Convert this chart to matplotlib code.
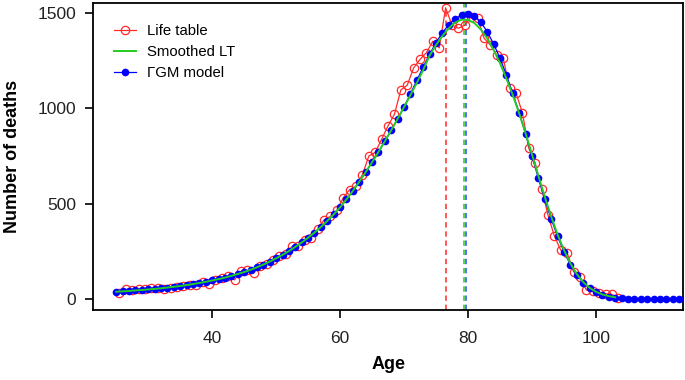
import numpy as np
import matplotlib
matplotlib.use("Agg")
import matplotlib.pyplot as plt

plt.rcParams['font.family'] = ['Liberation Sans', 'DejaVu Sans']

# GM model, ages 25..113
model_age = np.arange(25, 114)
model_deaths = [38, 40, 42, 45, 47, 50, 53, 56, 60, 64,
                68, 73, 78, 84, 90, 97, 104, 112, 121, 131,
                141, 153, 166, 180, 196, 213, 231, 251, 273, 296,
                321, 348, 377, 409, 443, 480, 522, 566, 614, 664,
                716, 770, 826, 884, 944, 1005, 1075, 1145, 1215, 1282,
                1343, 1395, 1437, 1468, 1487, 1493, 1480, 1450, 1400, 1336,
                1262, 1172, 1077, 975, 865, 748, 632, 522, 420, 328,
                248, 180, 126, 86, 56, 35, 21, 12, 7, 4,
                2, 1, 0.5, 0.2, 0.1, 0, 0, 0, 0]

# smoothed life table, ages 25..103
smooth_age = np.arange(25, 104)
smooth_deaths = [38, 40, 42, 45, 47, 50, 53, 56, 60, 64,
                 68, 73, 78, 84, 90, 97, 104, 112, 121, 131,
                 141, 153, 166, 180, 196, 213, 231, 251, 273, 296,
                 321, 348, 377, 409, 443, 480, 522, 566, 614, 664,
                 716, 770, 826, 884, 944, 1005, 1068, 1132, 1200, 1275,
                 1330, 1378, 1418, 1448, 1463, 1462, 1445, 1412, 1365, 1305,
                 1235, 1155, 1068, 972, 868, 757, 645, 535, 432, 338,
                 256, 187, 131, 89, 59, 38, 24, 15, 9]

# life table, ages 25.5..103.5
lt_age = np.arange(25, 104) + 0.5
lt_deaths = [30, 50, 47, 52, 50, 56, 58, 52, 58, 64,
             70, 73, 75, 88, 78, 100, 110, 118, 100, 145,
             150, 135, 175, 185, 205, 225, 236, 275, 280, 310,
             322, 365, 415, 433, 465, 530, 573, 590, 652, 749,
             768, 837, 907, 968, 1095, 1120, 1210, 1255, 1290, 1350,
             1315, 1525, 1434, 1418, 1434, 1478, 1471, 1366, 1330, 1277,
             1262, 1105, 1080, 975, 790, 712, 578, 440, 330, 256,
             242, 143, 117, 47, 40, 30, 28, 24, 5]

mode_lt = 76.6
mode_smooth = 79.3
mode_model = 79.7

fig = plt.figure(figsize=(6.85, 3.8), dpi=100)
ax = fig.add_axes([0.136, 0.184, 0.861, 0.808])

ax.plot(lt_age, lt_deaths, color='#ff2a2a', linewidth=0.9, marker='o',
        markerfacecolor='none', markeredgecolor='#ff2a2a', markersize=6,
        markeredgewidth=0.9, label='Life table', zorder=3)
ax.plot(model_age, model_deaths, color='#0000ff', linewidth=0.9, marker='o',
        markersize=5.5, markeredgewidth=0, label='ΓGM model', zorder=4)
ax.plot(smooth_age, smooth_deaths, color='#22cc22', linewidth=1.4,
        label='Smoothed LT', zorder=5)

ax.vlines(mode_lt, -60, max(lt_deaths), colors='#ff2a2a', linestyles=(0, (3.5, 2.5)),
          linewidth=1.1, zorder=2)
ax.axvline(mode_smooth, color='#22cc22', linestyle=(0, (3.5, 2.5)), linewidth=1.1, zorder=2)
ax.axvline(mode_model, color='#3344ee', linestyle=(0, (3.5, 2.5)), linewidth=1.1, zorder=2)

ax.set_xlim(21.4, 113.6)
ax.set_ylim(-58, 1550)
ax.set_xticks([40, 60, 80, 100])
ax.set_yticks([0, 500, 1000, 1500])
ax.tick_params(direction='out', length=6, width=1.2, labelsize=12.5, labelcolor='#222222')
ax.tick_params(axis='x', pad=9)
ax.tick_params(axis='y', pad=6)
for sp in ax.spines.values():
    sp.set_linewidth(1.3)

ax.set_xlabel('Age', fontsize=13, fontweight='bold', labelpad=7)
ax.set_ylabel('Number of deaths', fontsize=13, fontweight='bold', labelpad=12)

h, l = ax.get_legend_handles_labels()
order = [0, 2, 1]
ax.legend([h[i] for i in order], [l[i] for i in order], loc='upper left',
          frameon=False, fontsize=10.7, handlelength=1.5, handletextpad=0.7,
          borderaxespad=0.0, labelspacing=0.45, bbox_to_anchor=(0.025, 0.95))

fig.savefig('out.png', dpi=100)
